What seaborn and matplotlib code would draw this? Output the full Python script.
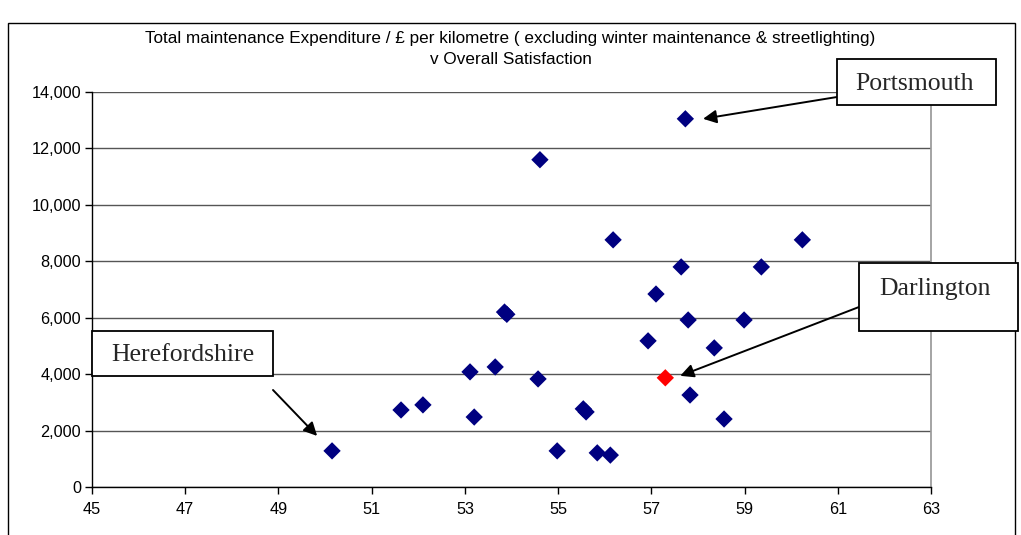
import matplotlib
matplotlib.use("Agg")
import matplotlib.pyplot as plt
import seaborn as sns
import pandas as pd
from matplotlib.patches import Rectangle

# values
satisfaction = [50.15, 51.63, 52.1, 53.11, 53.2, 53.65, 53.85, 53.9, 54.57, 54.61,
                54.98, 55.54, 55.6, 55.84, 56.12, 56.18, 56.93, 57.1, 57.64, 57.73,
                57.79, 57.83, 58.35, 58.56, 58.99, 59.36, 60.24]
expenditure = [1280, 2730, 2910, 4080, 2480, 4255, 6200, 6120, 3830, 11600,
               1280, 2770, 2660, 1210, 1130, 8760, 5180, 6840, 7800, 13050,
               5920, 3260, 4930, 2410, 5920, 7800, 8760]
darlington = (57.3, 3870)

labels = ["Portsmouth", "Darlington", "Herefordshire"]
labelled_points = [(57.73, 13050), darlington, (50.15, 1280)]

df = pd.DataFrame({"sat": satisfaction, "exp": expenditure})

sns.set_theme(style="white")
plt.rcParams['font.family'] = ['Liberation Sans', 'DejaVu Sans']

W, H = 1021, 535
fig = plt.figure(figsize=(W / 100, H / 100), dpi=100)
ax = fig.add_axes([92 / W, 1 - 487 / H, 839 / W, 395 / H])

sns.scatterplot(data=df, x="sat", y="exp", marker="D", s=78, color="#000080",
                edgecolor="none", ax=ax, zorder=3)
ax.scatter([darlington[0]], [darlington[1]], marker="D", s=78, color="#ff0000",
           edgecolors="none", zorder=4)

ax.set_xlim(45, 63)
ax.set_ylim(0, 14000)
ax.set_xticks(range(45, 64, 2))
ax.set_yticks(range(0, 14001, 2000))
ax.set_yticklabels([f"{v:,}" for v in range(0, 14001, 2000)])
ax.set_xlabel("")
ax.set_ylabel("")
ax.tick_params(axis="both", labelsize=11.7, length=5, width=1, direction="out",
               color="black", labelcolor="black", bottom=True, left=True, pad=3)
ax.tick_params(axis="x", pad=6)
ax.yaxis.grid(True, color="#555555", linewidth=1)
ax.set_axisbelow(True)
for side in ["left", "bottom"]:
    ax.spines[side].set_color("black")
    ax.spines[side].set_linewidth(1)
ax.spines["right"].set_color("#999999")
ax.spines["top"].set_visible(False)

fig.text(0.5, 1 - 49 / H, "Total maintenance Expenditure / £ per kilometre ( excluding winter maintenance & streetlighting)\nv Overall Satisfaction",
         ha="center", va="center", fontsize=12.3, linespacing=1.55, color="black")

# outer chart frame
fig.patches.append(Rectangle((8 / W, -0.1), 1007 / W, 1.1 - 23 / H,
                             transform=fig.transFigure, fill=False,
                             edgecolor="black", linewidth=1))


def px(x, y):
    return (x / W, 1 - y / H)


# label boxes: (left, top, right, bottom) in pixels, text centre, arrow start
boxes = [(837, 59, 996, 105), (859, 263, 1018, 331), (92, 331, 273, 376)]
text_pos = [(915, 84), (935, 289), (183, 355)]
arrow_start = [(837, 97), (859, 307), (273, 390)]
arrow_offsets = [(0.38, 0), (0.32, 70), (-0.32, 530)]

for lab, pt, bx, tp, st, off in zip(labels, labelled_points, boxes, text_pos,
                                     arrow_start, arrow_offsets):
    l, t, r, b = bx
    fig.patches.append(Rectangle(px(l, b), (r - l) / W, (b - t) / H,
                                 transform=fig.transFigure, fc="white",
                                 ec="black", lw=1.3, zorder=5))
    fig.text(*px(*tp), lab, ha="center", va="center", family="Liberation Serif",
             fontsize=18.5, zorder=6)
    ax.annotate("", xy=(pt[0] + off[0], pt[1] + off[1]), xytext=px(*st),
                textcoords="figure fraction",
                arrowprops=dict(arrowstyle="-|>", color="black", lw=1.4,
                                mutation_scale=20, shrinkA=0, shrinkB=0))

fig.savefig("out.png", dpi=100)
